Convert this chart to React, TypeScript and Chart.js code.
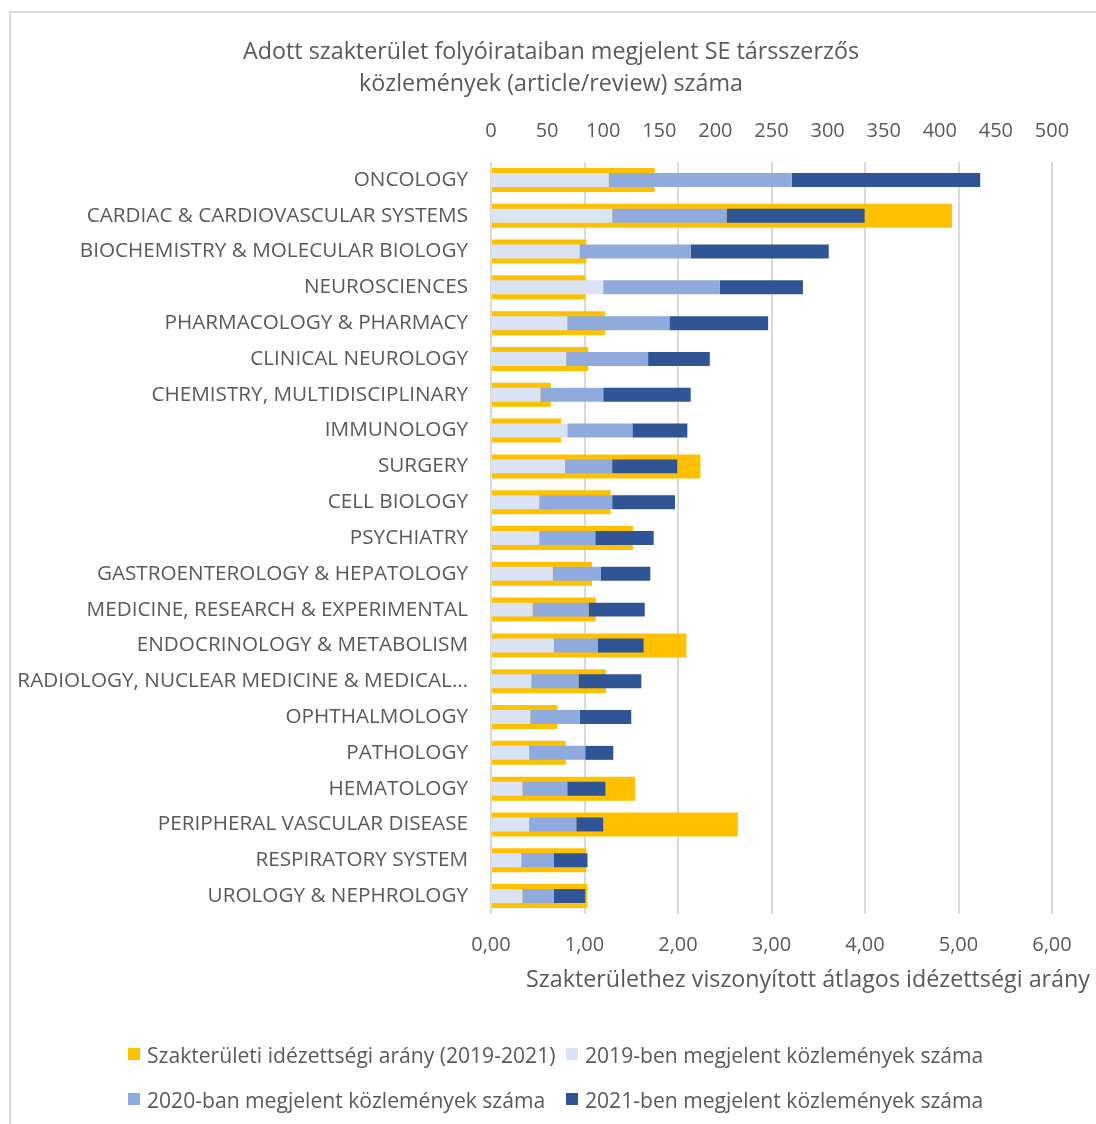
import React, { useEffect, useRef } from "react";
import { Chart, registerables } from "chart.js";

Chart.register(...registerables);

const categories = [
  "ONCOLOGY",
  "CARDIAC & CARDIOVASCULAR SYSTEMS",
  "BIOCHEMISTRY & MOLECULAR BIOLOGY",
  "NEUROSCIENCES",
  "PHARMACOLOGY & PHARMACY",
  "CLINICAL NEUROLOGY",
  "CHEMISTRY, MULTIDISCIPLINARY",
  "IMMUNOLOGY",
  "SURGERY",
  "CELL BIOLOGY",
  "PSYCHIATRY",
  "GASTROENTEROLOGY & HEPATOLOGY",
  "MEDICINE, RESEARCH & EXPERIMENTAL",
  "ENDOCRINOLOGY & METABOLISM",
  "RADIOLOGY, NUCLEAR MEDICINE & MEDICAL…",
  "OPHTHALMOLOGY",
  "PATHOLOGY",
  "HEMATOLOGY",
  "PERIPHERAL VASCULAR DISEASE",
  "RESPIRATORY SYSTEM",
  "UROLOGY & NEPHROLOGY",
];

const citationRatio = [1.75, 4.93, 1.02, 1.01, 1.22, 1.04, 0.64, 0.75, 2.24, 1.28, 1.52, 1.08, 1.12, 2.09, 1.23, 0.71, 0.8, 1.54, 2.64, 1.02, 1.03];
const pubs2019 = [105, 108, 79, 100, 68, 67, 44, 68, 66, 43, 43, 55, 37, 56, 36, 35, 34, 28, 34, 27, 28];
const pubs2020 = [163, 102, 99, 104, 91, 73, 56, 58, 42, 65, 50, 43, 50, 39, 42, 44, 50, 40, 42, 29, 28];
const pubs2021 = [168, 123, 123, 74, 88, 55, 78, 49, 58, 56, 52, 44, 50, 41, 56, 46, 25, 34, 24, 30, 28];

const countTicks = ["0", "50", "100", "150", "200", "250", "300", "350", "400", "450", "500"];
const ratioTicks = ["0,00", "1,00", "2,00", "3,00", "4,00", "5,00", "6,00"];

const seriesLabels = [
  "Szakterületi idézettségi arány (2019-2021)",
  "2019-ben megjelent közlemények száma",
  "2020-ban megjelent közlemények száma",
  "2021-ben megjelent közlemények száma",
];
const seriesColors = ["#FFC000", "#DAE3F3", "#8FAADC", "#2F5597"];

const titleLines = [
  "Adott szakterület folyóirataiban megjelent SE társszerzős",
  "közlemények (article/review) száma",
];
const ratioAxisTitle = "Szakterülethez viszonyított átlagos idézettségi arány";

const FONT = "'Open Sans', 'Noto Sans', sans-serif";
const TEXT = "#595959";

const axisTitlePlugin = {
  id: "ratioAxisTitle",
  afterDraw(chart: any) {
    const ctx = chart.ctx;
    const x2 = chart.scales.x2;
    ctx.save();
    ctx.font = `23.3px ${FONT}`;
    ctx.fillStyle = TEXT;
    ctx.textAlign = "right";
    ctx.textBaseline = "middle";
    ctx.fillText(ratioAxisTitle, chart.width - 6, x2.bottom + 4);
    ctx.restore();
  },
};

export default function App() {
  const canvasRef = useRef<HTMLCanvasElement | null>(null);

  useEffect(() => {
    const canvas = canvasRef.current;
    if (!canvas) return;
    const chart = new Chart(canvas, {
      type: "bar",
      data: {
        labels: categories,
        datasets: [
          {
            label: seriesLabels[0],
            data: citationRatio,
            backgroundColor: seriesColors[0],
            xAxisID: "x2",
            yAxisID: "y",
            grouped: false,
            barPercentage: 0.67,
            categoryPercentage: 1,
            order: 1,
          },
          {
            label: seriesLabels[1],
            data: pubs2019,
            backgroundColor: seriesColors[1],
            xAxisID: "x",
            yAxisID: "y",
            grouped: false,
            barPercentage: 0.39,
            categoryPercentage: 1,
            order: 0,
          },
          {
            label: seriesLabels[2],
            data: pubs2020,
            backgroundColor: seriesColors[2],
            xAxisID: "x",
            yAxisID: "y",
            grouped: false,
            barPercentage: 0.39,
            categoryPercentage: 1,
            order: 0,
          },
          {
            label: seriesLabels[3],
            data: pubs2021,
            backgroundColor: seriesColors[3],
            xAxisID: "x",
            yAxisID: "y",
            grouped: false,
            barPercentage: 0.39,
            categoryPercentage: 1,
            order: 0,
          },
        ] as any,
      },
      options: {
        indexAxis: "y",
        responsive: false,
        animation: false,
        devicePixelRatio: 1,
        layout: { padding: { left: 6, right: 0, top: 0, bottom: 148 } },
        plugins: {
          legend: { display: false },
          tooltip: { enabled: false },
          title: {
            display: true,
            text: titleLines,
            color: TEXT,
            font: { family: FONT, size: 23.3, weight: "normal", lineHeight: 32 / 23.3 },
            padding: { top: 36, bottom: 0 },
          },
        },
        scales: {
          x: {
            position: "top",
            stacked: true,
            min: 0,
            max: 500,
            grid: { display: false, drawTicks: false },
            border: { display: false },
            ticks: {
              stepSize: 50,
              padding: 19,
              color: TEXT,
              font: { family: FONT, size: 20 },
              callback: (_v: any, i: number) => countTicks[i],
            },
          },
          x2: {
            position: "bottom",
            min: 0,
            max: 6,
            grid: { display: true, color: "#D9D9D9", lineWidth: 2, drawTicks: false },
            border: { display: false },
            ticks: {
              stepSize: 1,
              padding: 19,
              color: TEXT,
              font: { family: FONT, size: 20 },
              callback: (_v: any, i: number) => ratioTicks[i],
            },
          },
          y: {
            type: "category",
            position: "left",
            grid: { display: false, drawTicks: false },
            border: { display: false },
            ticks: {
              padding: 23,
              autoSkip: false,
              color: TEXT,
              font: { family: FONT, size: 20.7 },
            },
            afterFit: (scale: any) => {
              scale.width = 485;
            },
          },
          yr: {
            type: "linear",
            axis: "y",
            position: "right",
            display: true,
            grid: { display: false, drawTicks: false },
            border: { display: false },
            ticks: { display: false },
            afterFit: (scale: any) => {
              scale.width = 44;
            },
          },
        } as any,
      } as any,
      plugins: [axisTitlePlugin],
    });
    return () => chart.destroy();
  }, []);

  const legendRows = [
    [0, 1],
    [2, 3],
  ];
  const rowCenters = [1054, 1099];
  const colLefts = [128, 566];

  return (
    <div
      style={{
        position: "absolute",
        left: 0,
        top: 0,
        width: 1096,
        height: 1124,
        overflow: "hidden",
        background: "#fff",
      }}
    >
      <div
        style={{
          position: "absolute",
          left: 9,
          top: 11,
          width: 1300,
          height: 1300,
          border: "2px solid #D9D9D9",
          boxSizing: "border-box",
        }}
      />
      <canvas
        ref={canvasRef}
        width={1096}
        height={1124}
        style={{ position: "absolute", left: 0, top: 0, width: 1096, height: 1124 }}
      />
      {legendRows.map((row, r) =>
        row.map((idx, c) => (
          <div
            key={idx}
            style={{
              position: "absolute",
              left: colLefts[c],
              top: rowCenters[r] - 14,
              height: 28,
              display: "flex",
              alignItems: "center",
              fontFamily: FONT,
              fontSize: 21.1,
              color: TEXT,
              whiteSpace: "nowrap",
            }}
          >
            <span
              style={{
                display: "inline-block",
                width: 12,
                height: 12,
                background: seriesColors[idx],
                marginRight: 7,
              }}
            />
            <span>{seriesLabels[idx]}</span>
          </div>
        ))
      )}
    </div>
  );
}
